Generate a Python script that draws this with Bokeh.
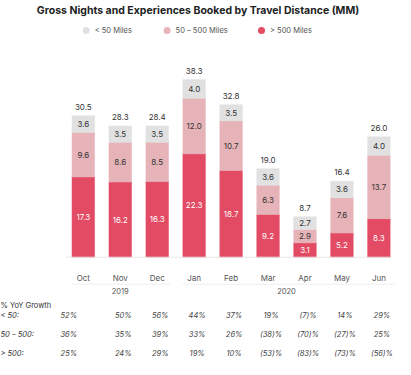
import numpy as np
from bokeh.plotting import figure
from bokeh.models import Range1d, ColumnDataSource
from bokeh.core.properties import value
from bokeh.embed import file_html
from bokeh.resources import INLINE

# ---------------- data ----------------
months = ["Oct", "Nov", "Dec", "Jan", "Feb", "Mar", "Apr", "May", "Jun"]
years = ["2019", "2020"]
months_per_year = [3, 6]
over_500 = [17.3, 16.2, 16.3, 22.3, 18.7, 9.2, 3.1, 5.2, 8.3]
mid_50_500 = [9.6, 8.6, 8.5, 12.0, 10.7, 6.3, 2.9, 7.6, 13.7]
under_50 = [3.6, 3.5, 3.5, 4.0, 3.5, 3.6, 2.7, 3.6, 4.0]
totals = [30.5, 28.3, 28.4, 38.3, 32.8, 19.0, 8.7, 16.4, 26.0]
series_names = ["< 50 Miles", "50 – 500 Miles", "> 500 Miles"]
growth_title = "% YoY Growth"
growth_labels = ["< 50:", "50 – 500:", "> 500:"]
growth_under_50 = ["52%", "50%", "56%", "44%", "37%", "19%", "(7)%", "14%", "29%"]
growth_50_500 = ["36%", "35%", "39%", "33%", "26%", "(38)%", "(70)%", "(27)%", "25%"]
growth_over_500 = ["25%", "24%", "29%", "19%", "10%", "(53)%", "(83)%", "(73)%", "(56)%"]
title = "Gross Nights and Experiences Booked by Travel Distance (MM)"

# ---------------- layout / style ----------------
W, H = 395, 359
X0, DX = 82.8, 36.95        # pixel centre of first bar, bar spacing
BASE, PX = 256.7, 4.637     # pixel baseline (from top), pixels per unit
RED, PINK, GREY = "#E34A63", "#E6B3B8", "#E1E1E1"
FONT = "Inter"
DARK = "#333333"


def xd(fx):
    return (fx - X0) / DX


def yd(fy):
    return (BASE - fy) / PX


p = figure(width=W, height=H, output_backend="svg", toolbar_location=None,
           x_range=Range1d(xd(0), xd(W)), y_range=Range1d(yd(H), yd(0)),
           x_axis_type=None, y_axis_type=None, min_border=0,
           outline_line_color=None, background_fill_color="white",
           border_fill_color="white")
p.grid.visible = False

n = len(months)
xs = np.arange(n, dtype=float)
src = ColumnDataSource(dict(x=xs, over=over_500, mid=mid_50_500, under=under_50,
                            total=totals, month=months))

p.vbar_stack(["over", "mid", "under"], x="x", width=0.61, source=src,
             fill_color=[RED, PINK, GREY], line_color=[RED, PINK, GREY], line_width=0.5)

o = np.array(over_500)
m = np.array(mid_50_500)
u = np.array(under_50)
lab = ColumnDataSource(dict(
    x=np.concatenate([xs, xs, xs]),
    y=np.concatenate([o / 2, o + m / 2, o + m + u / 2]),
    t=[f"{v:.1f}" for v in list(o) + list(m) + list(u)],
    c=["white"] * n + [DARK] * n + [DARK] * n,
))
p.text(x="x", y="y", text="t", text_color="c", source=lab, text_align="center",
       text_baseline="middle", text_font_size="8px", text_font=value(FONT))

# totals above bars
p.text(x="x", y="top", text="t", source=ColumnDataSource(dict(
    x=xs, top=o + m + u, t=[f"{v:.1f}" for v in totals])),
       y_offset=-6, text_align="center", text_baseline="bottom",
       text_font_size="8px", text_font=value(FONT), text_color=DARK)

# baseline
p.segment(x0=[xd(65.5)], y0=[0], x1=[xd(390)], y1=[0], line_color="#E6E6E6", line_width=1)

# month labels
p.text(x=xs, y=[yd(277)] * n, text=months, text_align="center", text_baseline="middle",
       text_font_size="8px", text_font=value(FONT), text_color="#555555")

# year groups
start = 0
for yr, cnt in zip(years, months_per_year):
    a, b = start, start + cnt - 1
    left_pad = -11.5 / DX
    right_pad = (13 if yr == years[0] else 16.5) / DX
    p.segment(x0=[a + left_pad], y0=[yd(283.7)], x1=[b + right_pad], y1=[yd(283.7)],
              line_color="#EEEEEE", line_width=1)
    p.text(x=[(a + b) / 2], y=[yd(290.5)], text=[yr], text_align="center",
           text_baseline="middle", text_font_size="7.5px", text_font=value(FONT),
           text_color="#555555")
    start += cnt

# title
p.text(x=[xd(197.5)], y=[yd(9.7)], text=[title], text_align="center",
       text_baseline="middle", text_font_size="10.5px", text_font_style="bold",
       text_font=value(FONT), text_color="#222222")

# legend
leg_x = [85.7, 166.6, 261.0]
leg_c = [GREY, PINK, RED]
p.scatter(x=[xd(v) for v in leg_x], y=[yd(29.9)] * 3, size=7, marker="circle",
          fill_color=leg_c, line_color=None)
p.text(x=[xd(v + 8.5) for v in leg_x], y=[yd(29.9)] * 3, text=series_names,
       text_align="left", text_baseline="middle", text_font_size="7.5px",
       text_font=value(FONT), text_color="#555555")

# growth table
p.text(x=[xd(0)], y=[yd(305)], text=[growth_title], text_align="left",
       text_baseline="middle", text_font_size="7.5px", text_font=value(FONT),
       text_color=DARK)
row_y = [314.6, 333.9, 353.2]
col_off = [-14.5] + [3] * (n - 1)
for ry, rl, vals in zip(row_y, growth_labels,
                        [growth_under_50, growth_50_500, growth_over_500]):
    p.text(x=[xd(0)], y=[yd(ry)], text=[rl], text_align="left", text_baseline="middle",
           text_font_size="7.5px", text_font_style="italic", text_font=value(FONT),
           text_color=DARK)
    p.text(x=xs, y=[yd(ry)] * n, text=vals, x_offset=col_off, text_align="center",
           text_baseline="middle", text_font_size="7.5px", text_font_style="italic",
           text_font=value(FONT), text_color="#444444")

open("out.html", "w").write(file_html(p, INLINE))
